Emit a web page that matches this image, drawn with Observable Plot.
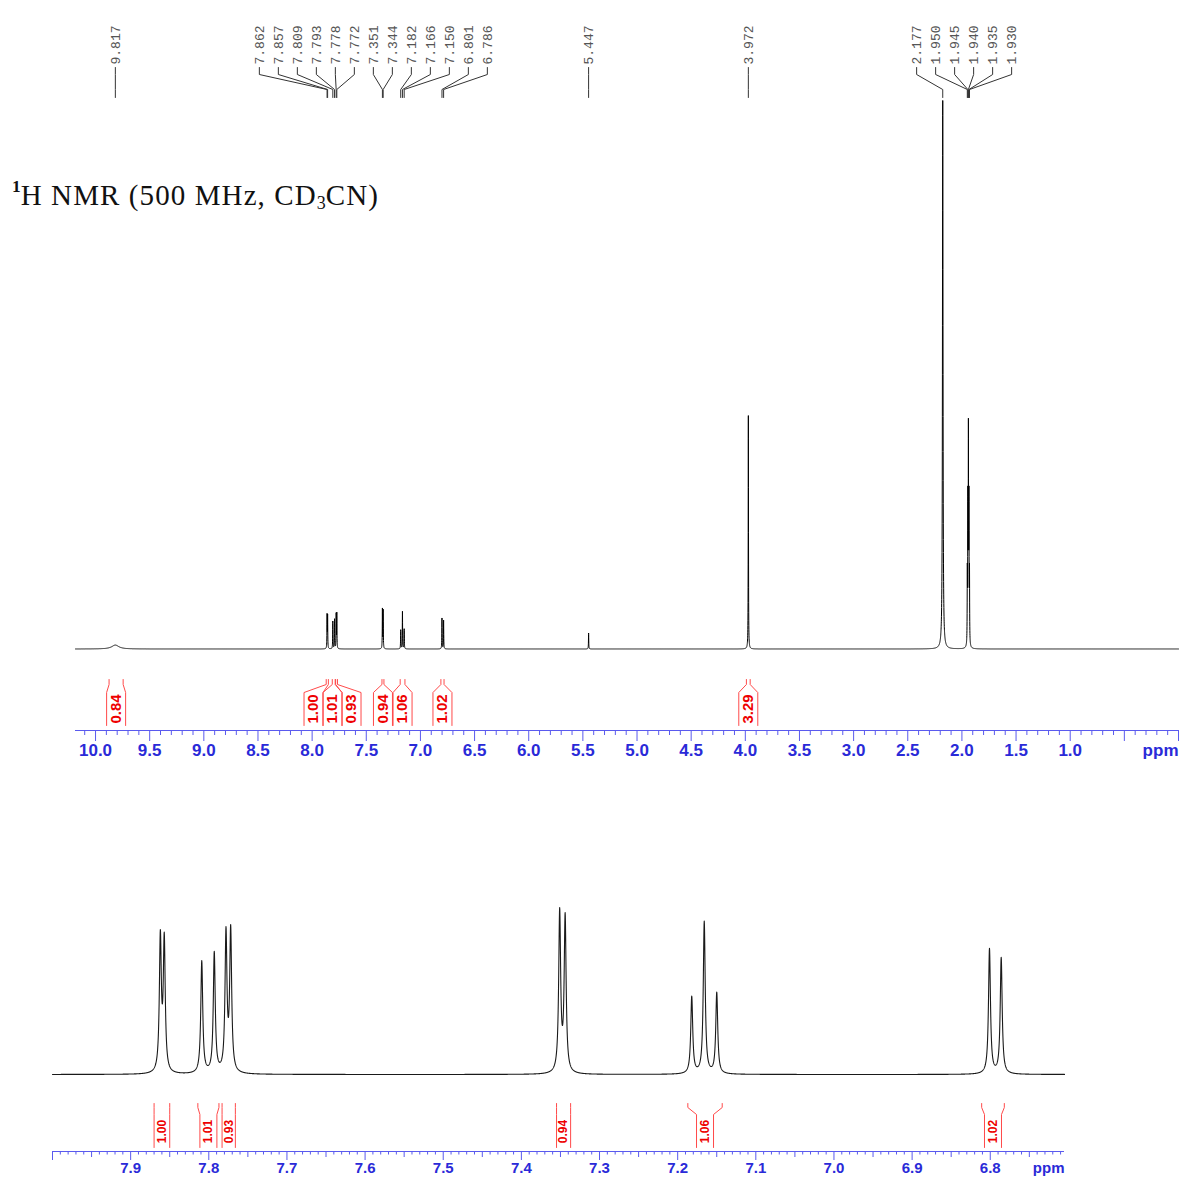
<!DOCTYPE html>
<html>
<head>
<meta charset="utf-8">
<script src="https://cdn.jsdelivr.net/npm/d3@7"></script>
<script src="https://cdn.jsdelivr.net/npm/@observablehq/plot@0.6"></script>
<style>
  html, body { margin: 0; padding: 0; background: #fff; }
  #page { position: relative; width: 1180px; height: 1180px; overflow: hidden; background: #fff; }
  #topChart { position: absolute; left: 0; top: 0; }
  #bottomChart { position: absolute; left: 0; top: 780px; }
  #title { position: absolute; left: 12px; top: 181px; font-family: "Liberation Serif", "Times New Roman", serif;
           font-size: 29px; line-height: 1; letter-spacing: 1.1px; color: #111; white-space: nowrap; }
  #title .sup { font-size: 0.6em; font-weight: bold; position: relative; top: -0.72em; letter-spacing: 0; }
  #title .sub { font-size: 0.62em; position: relative; top: 0.2em; letter-spacing: 0; }
</style>
</head>
<body>
<div id="page">
  <div id="topChart"></div>
  <div id="bottomChart"></div>
  <div id="title"><span class="sup">1</span>H NMR (500 MHz, CD<span class="sub">3</span>CN)</div>
</div>
<script>
// ---------- data ----------
// peak positions (ppm), apparent heights (arbitrary units), half-widths (ppm)
const peakShifts  = [9.817, 7.862, 7.857, 7.809, 7.793, 7.778, 7.772, 7.351, 7.344, 7.182, 7.166, 7.150, 6.801, 6.786, 5.447, 3.972, 2.177, 1.950, 1.945, 1.940, 1.935, 1.930];
const peakHeights = [16,    134,   131,   112,   120,   138,   141,   160,   155,   77,    152,   81,    125,   116,   65,    949,   2230,  278,   556,   834,   556,   278];
const peakWidths  = [0.04,  0.0015,0.0015,0.0015,0.0015,0.0015,0.0015,0.0015,0.0015,0.0015,0.0015,0.0015,0.0015,0.0015,0.0015,0.0015,0.003, 0.0015,0.0015,0.0015,0.0015,0.0015];
const peakLabels  = ["9.817","7.862","7.857","7.809","7.793","7.778","7.772","7.351","7.344","7.182","7.166","7.150","6.801","6.786","5.447","3.972","2.177","1.950","1.945","1.940","1.935","1.930"];

// integration regions (ppm) and values
const integralFrom   = [9.875, 7.870, 7.814, 7.783, 7.355, 7.187, 6.811, 3.990];
const integralTo     = [9.745, 7.850, 7.787, 7.766, 7.337, 7.143, 6.782, 3.955];
const integralValues = ["0.84", "1.00", "1.01", "0.93", "0.94", "1.06", "1.02", "3.29"];

// axis tick labels
const topTickLabels    = [10.0, 9.5, 9.0, 8.5, 8.0, 7.5, 7.0, 6.5, 6.0, 5.5, 5.0, 4.5, 4.0, 3.5, 3.0, 2.5, 2.0, 1.5, 1.0];
const bottomTickLabels = [7.9, 7.8, 7.7, 7.6, 7.5, 7.4, 7.3, 7.2, 7.1, 7.0, 6.9, 6.8];

// ---------- styles ----------
const AXIS_TEXT = "#2a2ad8";
const AXIS_LINE = "#5a5aee";
const RED_LINE = "#ff4a4a";
const RED_TEXT = "#ee0000";
const fmt1 = d3.format(".1f");

// Lorentzian sum of the peak list
function spectrum(lo, hi, step) {
  const grid = d3.range(lo, hi + step / 2, step).concat(peakShifts.filter(p => p >= lo && p <= hi));
  grid.sort((a, b) => a - b);
  return grid.map(x => ({
    ppm: x,
    I: d3.sum(peakShifts, (p, k) => peakHeights[k] / (1 + ((x - p) / peakWidths[k]) ** 2))
  }));
}

// de-overlap labels: merge colliding groups, centre each group on its mean
function spreadPositions(centers, gap) {
  let groups = centers.map(c => ({n: 1, sum: c}));
  const pos = g => g.sum / g.n;
  let merged = true;
  while (merged) {
    merged = false;
    for (let i = 0; i < groups.length - 1; i++) {
      const a = groups[i], b = groups[i + 1];
      const aEnd = pos(a) + (a.n - 1) / 2 * gap;
      const bStart = pos(b) - (b.n - 1) / 2 * gap;
      if (bStart - aEnd < gap) {
        groups.splice(i, 2, {n: a.n + b.n, sum: a.sum + b.sum});
        merged = true;
        break;
      }
    }
  }
  const out = [];
  for (const g of groups) for (let k = 0; k < g.n; k++) out.push(pos(g) + (k - (g.n - 1) / 2) * gap);
  return out;
}

// ================= TOP: full spectrum =================
{
  const W = 1180, H = 775;
  const xDomain = [10.185, 0], xRange = [75, 1178];
  const yDomain = [0, 2230], yRange = [648.5, 100];
  const X = Plot.scale({x: {domain: xDomain, range: xRange}});
  const Y = Plot.scale({y: {domain: yDomain, range: yRange}});

  const data = spectrum(0, 10.185, 0.0005);

  // peak labels + connectors
  const peakPx = peakShifts.map(p => X.apply(p));
  const labelPx = spreadPositions(peakPx, 19);
  const labelRows = peakLabels.map((t, i) => ({x: X.invert(labelPx[i]), text: t}));
  const connRows = [];
  peakShifts.forEach((p, i) => {
    const lx = X.invert(labelPx[i]);
    connRows.push({id: i, x: lx, y: Y.invert(67)});
    connRows.push({id: i, x: lx, y: Y.invert(74)});
    connRows.push({id: i, x: p, y: Y.invert(89)});
    connRows.push({id: i, x: p, y: Y.invert(97)});
  });

  // integrals
  const regionCenters = integralFrom.map((f, i) => (X.apply(f) + X.apply(integralTo[i])) / 2);
  const bodyC = spreadPositions(regionCenters, 19);
  const half = 9.5;
  const intRows = [], intText = [];
  integralFrom.forEach((f, i) => {
    const t = integralTo[i];
    intRows.push({id: "L" + i, x: f, y: Y.invert(679)});
    intRows.push({id: "L" + i, x: f, y: Y.invert(684)});
    intRows.push({id: "L" + i, x: X.invert(bodyC[i] - half), y: Y.invert(692)});
    intRows.push({id: "L" + i, x: X.invert(bodyC[i] - half), y: Y.invert(725)});
    intRows.push({id: "R" + i, x: t, y: Y.invert(679)});
    intRows.push({id: "R" + i, x: t, y: Y.invert(684)});
    intRows.push({id: "R" + i, x: X.invert(bodyC[i] + half), y: Y.invert(692)});
    intRows.push({id: "R" + i, x: X.invert(bodyC[i] + half), y: Y.invert(725)});
    intText.push({x: X.invert(bodyC[i]), y: Y.invert(708.5), text: integralValues[i]});
  });

  const minorTicks = d3.range(1, 102).map(k => k / 10).filter(v => Math.abs(v * 2 - Math.round(v * 2)) > 1e-6);
  const majorUnlabelled = [0.5, 0.0];

  const chart = Plot.plot({
    width: W, height: H,
    marginLeft: 75, marginRight: W - 1178, marginTop: 0, marginBottom: 45,
    x: {domain: xDomain, range: xRange, axis: null},
    y: {domain: yDomain, range: yRange, axis: null},
    style: {background: "#fff", overflow: "visible"},
    marks: [
      Plot.line(data, {x: "ppm", y: "I", stroke: "#000", strokeWidth: 1}),
      Plot.line(connRows, {x: "x", y: "y", z: "id", stroke: "#333", strokeWidth: 1}),
      Plot.text(labelRows, {x: "x", y: () => Y.invert(64), text: "text", rotate: -90, textAnchor: "start",
        lineAnchor: "middle", fontFamily: "Liberation Mono, DejaVu Sans Mono, monospace", fontSize: 13,
        fill: "#555", style: "letter-spacing:1.5px"}),
      Plot.line(intRows, {x: "x", y: "y", z: "id", stroke: RED_LINE, strokeWidth: 1}),
      Plot.text(intText, {x: "x", y: "y", text: "text", rotate: -90, textAnchor: "middle", lineAnchor: "middle",
        fontFamily: "Liberation Sans, Arial, sans-serif", fontWeight: "bold", fontSize: 15, fill: RED_TEXT}),
      Plot.ruleY([Y.invert(730)], {stroke: AXIS_LINE, strokeWidth: 1.2}),
      Plot.axisX(minorTicks, {anchor: "bottom", tickSize: 5, tickFormat: () => "", stroke: AXIS_LINE}),
      Plot.axisX(majorUnlabelled, {anchor: "bottom", tickSize: 11, tickFormat: () => "", stroke: AXIS_LINE}),
      Plot.axisX(topTickLabels, {anchor: "bottom", tickSize: 11, tickPadding: 2, tickFormat: fmt1, stroke: AXIS_LINE,
        fill: AXIS_TEXT, fontFamily: "Liberation Sans, Arial, sans-serif", fontWeight: "bold", fontSize: 17}),
      Plot.text(["ppm"], {frameAnchor: "bottom-right", dy: 13, lineAnchor: "top", textAnchor: "end",
        fill: AXIS_TEXT, fontFamily: "Liberation Sans, Arial, sans-serif", fontWeight: "bold", fontSize: 17})
    ]
  });
  document.getElementById("topChart").appendChild(chart);
}

// ================= BOTTOM: aromatic expansion =================
{
  const W = 1180, H = 400, OFF = 780;
  const xDomain = [8.0, 6.705], xRange = [52, 1064];
  const yDomain = [0, 167], yRange = [1074 - OFF, 907 - OFF];
  const X = Plot.scale({x: {domain: xDomain, range: xRange}});
  const Y = Plot.scale({y: {domain: yDomain, range: yRange}});

  const data = spectrum(6.705, 8.0, 0.0002);

  const intRows = [], intText = [];
  integralFrom.forEach((f, i) => {
    const t = integralTo[i];
    if (f > 8.0 || t < 6.705) return;
    const a = X.apply(f), b = X.apply(t);
    const c = (a + b) / 2;
    const h = Math.min((b - a) / 2, 8.5);
    intRows.push({id: "L" + i, x: f, y: Y.invert(1103 - OFF)});
    intRows.push({id: "L" + i, x: f, y: Y.invert(1107 - OFF)});
    intRows.push({id: "L" + i, x: X.invert(c - h), y: Y.invert(1114 - OFF)});
    intRows.push({id: "L" + i, x: X.invert(c - h), y: Y.invert(1147 - OFF)});
    intRows.push({id: "R" + i, x: t, y: Y.invert(1103 - OFF)});
    intRows.push({id: "R" + i, x: t, y: Y.invert(1107 - OFF)});
    intRows.push({id: "R" + i, x: X.invert(c + h), y: Y.invert(1114 - OFF)});
    intRows.push({id: "R" + i, x: X.invert(c + h), y: Y.invert(1147 - OFF)});
    intText.push({x: X.invert(c), y: Y.invert(1131 - OFF), text: integralValues[i]});
  });

  const all = d3.range(671, 801).map(k => k / 100);
  const minorTicks = all.filter(v => Math.round(v * 100) % 5 !== 0);
  const midTicks = all.filter(v => Math.round(v * 100) % 5 === 0 && Math.round(v * 100) % 10 !== 0);
  const edgeTick = [8.0];

  const chart = Plot.plot({
    width: W, height: H,
    marginLeft: 52, marginRight: W - 1064, marginTop: 0, marginBottom: H - (1151 - OFF),
    x: {domain: xDomain, range: xRange, axis: null},
    y: {domain: yDomain, range: yRange, axis: null},
    style: {background: "#fff", overflow: "visible"},
    marks: [
      Plot.line(data, {x: "ppm", y: "I", stroke: "#1a1a1a", strokeWidth: 1.1}),
      Plot.line(intRows, {x: "x", y: "y", z: "id", stroke: RED_LINE, strokeWidth: 1}),
      Plot.text(intText, {x: "x", y: "y", text: "text", rotate: -90, textAnchor: "middle", lineAnchor: "middle",
        fontFamily: "Liberation Sans, Arial, sans-serif", fontWeight: "bold", fontSize: 12, fill: RED_TEXT}),
      Plot.ruleY([Y.invert(1151 - OFF)], {stroke: AXIS_LINE, strokeWidth: 1.2}),
      Plot.axisX(minorTicks, {anchor: "bottom", tickSize: 3.5, tickFormat: () => "", stroke: AXIS_LINE}),
      Plot.axisX(midTicks, {anchor: "bottom", tickSize: 6, tickFormat: () => "", stroke: AXIS_LINE}),
      Plot.axisX(edgeTick, {anchor: "bottom", tickSize: 9, tickFormat: () => "", stroke: AXIS_LINE}),
      Plot.axisX(bottomTickLabels, {anchor: "bottom", tickSize: 9, tickPadding: 2, tickFormat: fmt1, stroke: AXIS_LINE,
        fill: AXIS_TEXT, fontFamily: "Liberation Sans, Arial, sans-serif", fontWeight: "bold", fontSize: 15}),
      Plot.text(["ppm"], {frameAnchor: "bottom-right", dy: 11, lineAnchor: "top", textAnchor: "end",
        fill: AXIS_TEXT, fontFamily: "Liberation Sans, Arial, sans-serif", fontWeight: "bold", fontSize: 15})
    ]
  });
  document.getElementById("bottomChart").appendChild(chart);
}
</script>
</body>
</html>
